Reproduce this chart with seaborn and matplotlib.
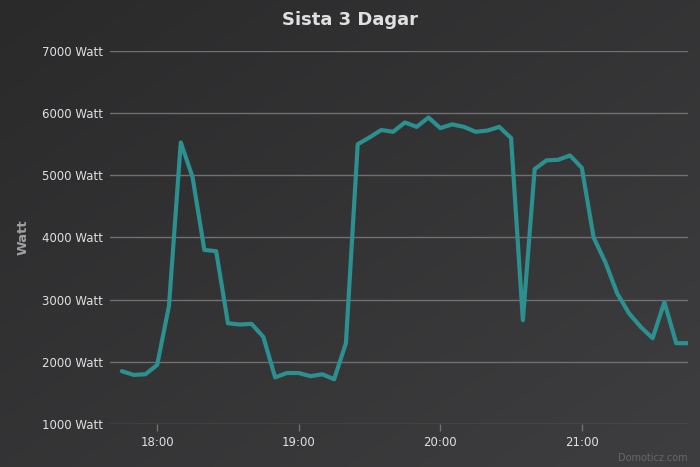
import numpy as np
import pandas as pd
import matplotlib
matplotlib.use("Agg")
import matplotlib.pyplot as plt
import matplotlib.dates as mdates
import seaborn as sns
from matplotlib.ticker import FuncFormatter

# data (5-minute samples)
times = ["17:45", "17:50", "17:55", "18:00", "18:05", "18:10", "18:15", "18:20",
         "18:25", "18:30", "18:35", "18:40", "18:45", "18:50", "18:55", "19:00",
         "19:05", "19:10", "19:15", "19:20", "19:25", "19:30", "19:35", "19:40",
         "19:45", "19:50", "19:55", "20:00", "20:05", "20:10", "20:15", "20:20",
         "20:25", "20:30", "20:35", "20:40", "20:45", "20:50", "20:55", "21:00",
         "21:05", "21:10", "21:15", "21:20", "21:25", "21:30", "21:35", "21:40",
         "21:45"]
watt = [1850, 1790, 1800, 1950, 2900, 5530, 4970, 3800,
        3780, 2620, 2600, 2610, 2400, 1750, 1820, 1820,
        1770, 1800, 1720, 2300, 5500, 5610, 5730, 5700,
        5850, 5780, 5930, 5760, 5820, 5780, 5700, 5720,
        5780, 5600, 2670, 5100, 5240, 5250, 5320, 5120,
        4000, 3600, 3100, 2780, 2560, 2380, 2960, 2300,
        2300]
y_ticks = [1000, 2000, 3000, 4000, 5000, 6000, 7000]

df = pd.DataFrame({"tid": pd.to_datetime("2016-01-01 " + pd.Series(times)), "Watt": watt})

sns.set_theme(style="dark")
plt.rcParams['font.family'] = ['DejaVu Sans']

fig = plt.figure(figsize=(7, 4.67), dpi=100)

# bakgrund med gradient
bg = fig.add_axes([0, 0, 1, 1], zorder=-10)
gx, gy = np.meshgrid(np.linspace(0, 1, 200), np.linspace(0, 1, 200))
grad = np.clip((gx + gy) / 2, 0, 1)
bg.imshow(grad, cmap=matplotlib.colors.LinearSegmentedColormap.from_list("bg", ["#2a2a2b", "#3e3e40"]),
          aspect="auto", extent=[0, 1, 0, 1], origin="upper")
bg.axis("off")

ax = fig.add_axes([110 / 700, 1 - 424 / 467, 578 / 700, (424 - 51) / 467])
ax.set_facecolor("none")
ax.patch.set_alpha(0)

sns.lineplot(data=df, x="tid", y="Watt", ax=ax, color="#2b908f", linewidth=3)
for l in ax.lines:
    l.set_solid_joinstyle("round")
    l.set_solid_capstyle("round")

ax.set_ylim(1000, 7000)
ax.set_xlim(pd.Timestamp("2016-01-01 17:40"), pd.Timestamp("2016-01-01 21:45"))
ax.set_yticks(y_ticks)
ax.yaxis.set_major_formatter(FuncFormatter(lambda v, _: f"{int(v)} Watt"))
ax.xaxis.set_major_locator(mdates.HourLocator())
ax.xaxis.set_major_formatter(mdates.DateFormatter("%H:%M"))

ax.grid(axis="y", color="#707073", linewidth=1)
ax.grid(axis="x", visible=False)
for s in ax.spines.values():
    s.set_visible(False)
ax.tick_params(axis="y", length=0, pad=5, labelsize=8.5, labelcolor="#E0E0E3")
ax.tick_params(axis="x", length=5, width=1, color="#707073", direction="out", pad=4,
               labelsize=8.5, labelcolor="#E0E0E3", bottom=True)

ax.set_xlabel("")
ax.set_ylabel("Watt", color="#A0A0A3", fontsize=9.5, fontweight="bold", labelpad=9)

fig.text(0.5, 1 - 20 / 467, "Sista 3 Dagar", ha="center", va="center",
         color="#E0E0E3", fontsize=13, fontweight="bold")
fig.text(688 / 700, 1 - 458 / 467, "Domoticz.com", ha="right", va="center",
         color="#666666", fontsize=7)

plt.savefig("out.png", dpi=100, facecolor=fig.get_facecolor())
plt.close()
